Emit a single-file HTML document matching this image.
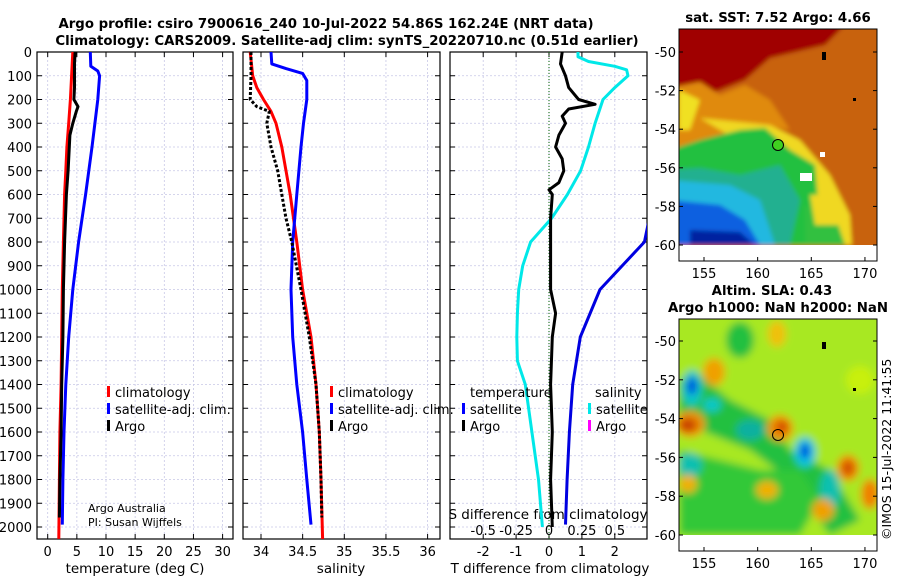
<!DOCTYPE html>
<html><head><meta charset="utf-8"><style>
body{margin:0;background:#fff;}
svg{display:block;font-family:"DejaVu Sans","Liberation Sans",sans-serif;}
</style></head><body>
<svg id="s" width="900" height="580" viewBox="0 0 900 580" xmlns="http://www.w3.org/2000/svg">
<defs>
<filter id="b1" x="-10%" y="-10%" width="120%" height="120%"><feGaussianBlur stdDeviation="2"/></filter>
<filter id="b2" x="-30%" y="-30%" width="160%" height="160%"><feGaussianBlur stdDeviation="4"/></filter>
<clipPath id="cm1"><rect x="679" y="29" width="198" height="216"/></clipPath>
<clipPath id="cm2"><rect x="679" y="319" width="198" height="216"/></clipPath>
<clipPath id="cp1"><rect x="37" y="52" width="196" height="487"/></clipPath>
<clipPath id="cp2"><rect x="243" y="52" width="197" height="487"/></clipPath>
<clipPath id="cp3"><rect x="450" y="52" width="197" height="487"/></clipPath>
</defs>
<text x="326" y="28" text-anchor="middle" font-weight="bold" font-size="13.3">Argo profile: csiro 7900616_240 10-Jul-2022 54.86S 162.24E (NRT data)</text>
<text x="347" y="45" text-anchor="middle" font-weight="bold" font-size="13.3">Climatology: CARS2009. Satellite-adj clim: synTS_20220710.nc (0.51d earlier)</text>

<!-- SST map -->
<g>
<text x="778" y="22" text-anchor="middle" font-weight="bold" font-size="13.3">sat. SST: 7.52 Argo: 4.66</text>
<g clip-path="url(#cm1)"><g filter="url(#b1)">
<rect x="670" y="20" width="220" height="240" fill="#c8620c"/>
<polygon points="670,20 850,20 825,45 770,58 745,80 715,92 700,82 670,88" fill="#a00000"/>
<polygon points="670,88 700,82 720,95 745,85 770,100 790,130 760,125 720,135 690,150 670,150" fill="#e08a10"/>
<polygon points="679,90 700,100 690,130 679,130" fill="#f0e020"/>
<polygon points="700,118 740,122 770,125 800,140 830,175 850,215 852,245 800,245 795,175" fill="#f0d820"/>
<polygon points="670,150 700,140 740,130 765,128 790,150 815,165 818,200 825,245 670,245" fill="#20c040"/>
<polygon points="670,170 700,168 740,175 780,165 800,200 790,245 670,245" fill="#20b090"/>
<polygon points="670,180 730,185 760,200 775,245 670,245" fill="#20b8e0"/>
<polygon points="670,200 720,205 745,220 760,245 670,245" fill="#1060e0"/>
<polygon points="690,230 740,232 755,245 690,245" fill="#0020a0"/>
<polygon points="805,205 835,215 845,245 805,245" fill="#30c040"/>
<polygon points="810,195 835,195 840,225 815,225" fill="#f0d820"/>
</g>
<rect x="800" y="173" width="12" height="8" fill="#fff"/>
<rect x="820" y="152" width="5" height="5" fill="#fff"/>
<rect x="822" y="52" width="4" height="8" fill="#000"/>
<rect x="853" y="98" width="3" height="3" fill="#000"/>
<circle cx="778" cy="145" r="5.5" fill="#40d020" stroke="#000" stroke-width="1"/>
</g>
<rect x="679" y="29" width="198" height="232" fill="none" stroke="#000" stroke-width="1"/>
</g>

<!-- SLA map -->
<g>
<text x="772" y="295" text-anchor="middle" font-weight="bold" font-size="13.3">Altim. SLA: 0.43</text>
<text x="778" y="312" text-anchor="middle" font-weight="bold" font-size="13.3">Argo h1000: NaN h2000: NaN</text>
<g clip-path="url(#cm2)"><g filter="url(#b2)">
<rect x="670" y="310" width="220" height="240" fill="#a8e820"/>
<ellipse cx="740" cy="340" rx="14" ry="18" fill="#20c040"/>
<polygon points="679,380 700,375 730,400 770,420 790,450 830,470 860,520 830,535 790,480 750,450 700,430 679,420" fill="#20c040"/>
<polygon points="679,450 720,460 760,470 800,470 820,500 800,535 679,535" fill="#30c838"/>
<ellipse cx="692" cy="388" rx="10" ry="18" fill="#10c8c8"/>
<ellipse cx="692" cy="386" rx="5" ry="9" fill="#0040e0"/>
<ellipse cx="712" cy="405" rx="9" ry="7" fill="#10c8c8"/>
<ellipse cx="750" cy="430" rx="14" ry="10" fill="#10b0a0"/>
<ellipse cx="805" cy="452" rx="11" ry="15" fill="#10c8e0"/>
<ellipse cx="805" cy="451" rx="5" ry="8" fill="#0040e0"/>
<ellipse cx="830" cy="490" rx="10" ry="20" fill="#10c0b0"/>
<ellipse cx="690" cy="465" rx="12" ry="12" fill="#10c0b0"/>
<ellipse cx="690" cy="424" rx="15" ry="13" fill="#f09000"/>
<ellipse cx="688" cy="425" rx="9" ry="7" fill="#c84000"/>
<ellipse cx="780" cy="428" rx="13" ry="13" fill="#f09000"/>
<ellipse cx="782" cy="427" rx="6" ry="6" fill="#d04000"/>
<ellipse cx="714" cy="372" rx="11" ry="14" fill="#f0a000"/>
<ellipse cx="777" cy="334" rx="9" ry="13" fill="#f0c010"/>
<ellipse cx="848" cy="468" rx="11" ry="13" fill="#f08000"/>
<ellipse cx="848" cy="468" rx="5" ry="6" fill="#c84000"/>
<ellipse cx="870" cy="494" rx="9" ry="15" fill="#f08000"/>
<ellipse cx="823" cy="510" rx="11" ry="11" fill="#f0a000"/>
<ellipse cx="767" cy="490" rx="11" ry="9" fill="#f0b000"/>
<ellipse cx="688" cy="484" rx="9" ry="9" fill="#f0b000"/>
<ellipse cx="860" cy="380" rx="14" ry="14" fill="#c8f010"/>
</g>
<rect x="822" y="342" width="4" height="7" fill="#000"/>
<rect x="853" y="388" width="3" height="3" fill="#000"/>
<circle cx="778" cy="435" r="5.5" fill="none" stroke="#000" stroke-width="1"/>
</g>
<rect x="679" y="319" width="198" height="232" fill="none" stroke="#000" stroke-width="1"/>
</g>
<text transform="translate(891,540) rotate(-90)" font-size="12.5">©IMOS 15-Jul-2022 11:41:55</text>

<g id="plots"></g>
</svg>
<script>
// ---- data ----
const tDepth = [0,50,100,200,300,400,500,600,800,1000,1200,1400,1600,1800,2050];
const tClim  = [4.3,4.2,4.1,3.9,3.6,3.3,3.1,2.9,2.7,2.5,2.4,2.3,2.1,2.0,1.9];
const argoDepth = [0,50,100,150,200,230,250,300,350,400,500,600,800,1000,1200,1400,1600,1800,1960];
const argoTemp  = [4.7,4.6,4.6,4.6,4.5,5.2,4.9,4.3,3.8,3.7,3.5,3.2,2.9,2.7,2.6,2.4,2.3,2.1,2.0];
const satDepth = [0,60,80,100,200,300,400,600,800,1000,1200,1400,1600,1800,1990];
const satTemp  = [7.3,7.4,8.6,8.9,8.6,8.1,7.6,6.5,5.3,4.3,3.6,3.1,2.8,2.6,2.5];
const sDepth = [0,100,150,200,250,300,400,500,600,800,1000,1200,1400,1600,1800,2050];
const sClim  = [33.87,33.9,33.95,34.03,34.12,34.18,34.25,34.3,34.35,34.43,34.5,34.6,34.66,34.7,34.72,34.74];
const argoSalDepth = [0,100,200,230,250,300,400,500,600,700,800,1000,1200,1400,1600,1800,1960];
const argoSal = [33.88,33.88,33.87,33.95,34.1,34.07,34.12,34.2,34.25,34.3,34.37,34.48,34.58,34.66,34.7,34.72,34.73];
const satSal  = [34.12,34.13,34.3,34.5,34.55,34.55,34.51,34.48,34.43,34.38,34.36,34.38,34.43,34.5,34.55,34.6];
const satSalDepth = [0,50,70,90,120,200,300,400,600,800,1000,1200,1400,1600,1800,1990];
const dTDepth = [0,50,100,150,200,220,240,270,300,350,400,450,500,550,580,600,700,800,1000,1100,1200,1400,1600,1800,2000];
const dTArgo  = [0.4,0.35,0.5,0.6,0.9,1.4,0.6,0.4,0.5,0.3,0.2,0.4,0.45,0.3,0.0,0.1,0.05,0.05,0.05,0.2,0.1,0.05,0.1,0.05,0.1];
const dTSatDepth = [0,100,200,300,400,600,800,1000,1200,1400,1600,1800,1990];
const dTSat = [3.1,4.4,4.4,4.1,4.3,3.2,2.9,1.55,0.95,0.72,0.62,0.55,0.5];
const dSSatDepth = [0,20,40,60,75,100,150,200,300,400,500,600,700,800,900,1000,1100,1200,1300,1400,1600,1800,2000];
const dSSat = [0.22,0.22,0.3,0.5,0.59,0.6,0.5,0.41,0.35,0.3,0.24,0.14,0.02,-0.14,-0.2,-0.23,-0.24,-0.245,-0.24,-0.18,-0.13,-0.08,-0.05];
const depthTicks = [0,100,200,300,400,500,600,700,800,900,1000,1100,1200,1300,1400,1500,1600,1700,1800,1900,2000];
const tTicks = [0,5,10,15,20,25,30];
const sTicks = [34,34.5,35,35.5,36];
const sTickLabels = ["34","34.5","35","35.5","36"];
const dTTicks = [-2,-1,0,1,2];
const dSTicks = [-0.5,-0.25,0,0.25,0.5];
const lonTicks = [155,160,165,170];
const latTicks = [-50,-52,-54,-56,-58,-60];

// ---- axes ----
const NS='http://www.w3.org/2000/svg';
const Y = d => 52 + d*0.2375;
const X1 = t => 47.7 + t*5.83;
const X2 = s => 261 + (s-34)*83.3;
const X3 = t => 549 + t*32.9;
const X3s = s => 549 + s*131.6;
const root=document.getElementById('plots');
function el(tag,attrs,parent){const e=document.createElementNS(NS,tag);for(const k in attrs)e.setAttribute(k,attrs[k]);(parent||root).appendChild(e);return e;}
function txt(x,y,s,size,anchor,parent){const e=el('text',{x:x,y:y,'font-size':size,'text-anchor':anchor||'middle'},parent);e.textContent=s;return e;}
function line(ds,vs,fx,color,w,dash,clip,name){
  const p=ds.map((d,i)=>(i?'L':'M')+fx(vs[i]).toFixed(1)+','+Y(d).toFixed(1)).join('');
  const e=el('path',{d:p,fill:'none',stroke:color,'stroke-width':w,'stroke-linejoin':'round','clip-path':'url(#'+clip+')'});
  if(dash)e.setAttribute('stroke-dasharray',dash);
  
  
  return e;
}
function panel(x0,x1,ticks,labels,fx,name){
  const g=el('g',{});
  
  
  depthTicks.forEach(d=>{el('line',{x1:x0,x2:x1,y1:Y(d),y2:Y(d),stroke:'#c8c8e6','stroke-width':0.8,'stroke-dasharray':'2,2'},g);
    el('line',{x1:x0,x2:x0+5,y1:Y(d),y2:Y(d),stroke:'#000'},g);el('line',{x1:x1-5,x2:x1,y1:Y(d),y2:Y(d),stroke:'#000'},g);});
  ticks.forEach((t,i)=>{const x=fx(t);el('line',{x1:x,x2:x,y1:52,y2:539,stroke:'#c8c8e6','stroke-width':0.8,'stroke-dasharray':'2,2'},g);
    el('line',{x1:x,x2:x,y1:534,y2:539,stroke:'#000'},g);el('line',{x1:x,x2:x,y1:52,y2:57,stroke:'#000'},g);
    const lt=txt(x,556,labels[i],13,'middle',g);
    
    });
  el('rect',{x:x0,y:52,width:x1-x0,height:487,fill:'none',stroke:'#000','stroke-width':1.2},g);
  return g;
}
const g1=panel(37,233,tTicks,tTicks.map(String),X1,'temperature-panel');
depthTicks.forEach(d=>{const t=txt(32,Y(d)+5,String(d),13,'end',g1);
  
  });
const xl1=txt(135,573,'temperature (deg C)',13.5,'middle',g1);


line(tDepth,tClim,X1,'#ff0000',3,null,'cp1','temp-climatology-line');
line(satDepth,satTemp,X1,'#0000ff',3,null,'cp1','temp-satellite-line');
line(argoDepth,argoTemp,X1,'#000',3,null,'cp1','temp-argo-line');

const g2=panel(243,440,sTicks,sTickLabels,X2,'salinity-panel');
const xl2=txt(341,573,'salinity',13.5,'middle',g2);


line(sDepth,sClim,X2,'#ff0000',3,null,'cp2','sal-climatology-line');
line(satSalDepth,satSal,X2,'#0000ff',3,null,'cp2','sal-satellite-line');
line(argoSalDepth,argoSal,X2,'#000',3,'3,2','cp2','sal-argo-line');

const g3=panel(450,647,dTTicks,dTTicks.map(String),X3,'difference-panel');
const xl3=txt(550,573,'T difference from climatology',13.5,'middle',g3);


const sl=txt(548,519,'S difference from climatology',13.5,'middle',g3);


dSTicks.forEach(s=>{const t=txt(X3s(s),535,String(s),13,'middle',g3);
  
  });
el('line',{x1:X3(0),x2:X3(0),y1:52,y2:539,stroke:'#006000','stroke-width':1,'stroke-dasharray':'1,2'},g3);
line(dSSatDepth,dSSat,X3s,'#00e8e8',3,null,'cp3','sal-diff-satellite-line');
line(dTSatDepth,dTSat,X3,'#0000e0',3,null,'cp3','temp-diff-satellite-line');
line(dTDepth,dTArgo,X3,'#000',3,null,'cp3','temp-diff-argo-line');

// legends
function leg(x,y,color,label,name){
  const g=el('g',{});
  
  
  el('rect',{x:x,y:y-11,width:3,height:11,fill:color},g);
  txt(x+8,y,label,13,'start',g);
}
leg(107,397,'#ff0000','climatology','legend-temp-climatology');
leg(107,414,'#0000ff','satellite-adj. clim.','legend-temp-satellite');
leg(107,431,'#000','Argo','legend-temp-argo');
leg(330,397,'#ff0000','climatology','legend-sal-climatology');
leg(330,414,'#0000ff','satellite-adj. clim.','legend-sal-satellite');
leg(330,431,'#000','Argo','legend-sal-argo');
const lt1=txt(470,397,'temperature',13,'start');


leg(462,414,'#0000ff','satellite','legend-tdiff-satellite');
leg(462,431,'#000','Argo','legend-tdiff-argo');
const lt2=txt(595,397,'salinity',13,'start');


leg(588,414,'#00e8e8','satellite','legend-sdiff-satellite');
leg(588,431,'#ff00ff','Argo','legend-sdiff-argo');
const c1=txt(88,512,'Argo Australia',11,'start');


const c2=txt(88,526,'PI: Susan Wijffels',11,'start');



// map axes
function mapAxes(top,lat50,lat60,name){
  const g=el('g',{});
  
  
  const fy=l=>lat50+(l+50)/-10*(lat60-lat50);
  latTicks.forEach(l=>{const y=fy(l);el('line',{x1:679,x2:683,y1:y,y2:y,stroke:'#000'},g);el('line',{x1:873,x2:877,y1:y,y2:y,stroke:'#000'},g);
    txt(676,y+5,String(l),13,'end',g);});
  lonTicks.forEach(l=>{const x=704+(l-155)*10.73;el('line',{x1:x,x2:x,y1:top+232-4,y2:top+232,stroke:'#000'},g);
    txt(x,top+249,String(l),13,'middle',g);});
}
mapAxes(29,52,245,'sst-map-axes');
mapAxes(319,341,535,'sla-map-axes');
</script>
</body></html>
